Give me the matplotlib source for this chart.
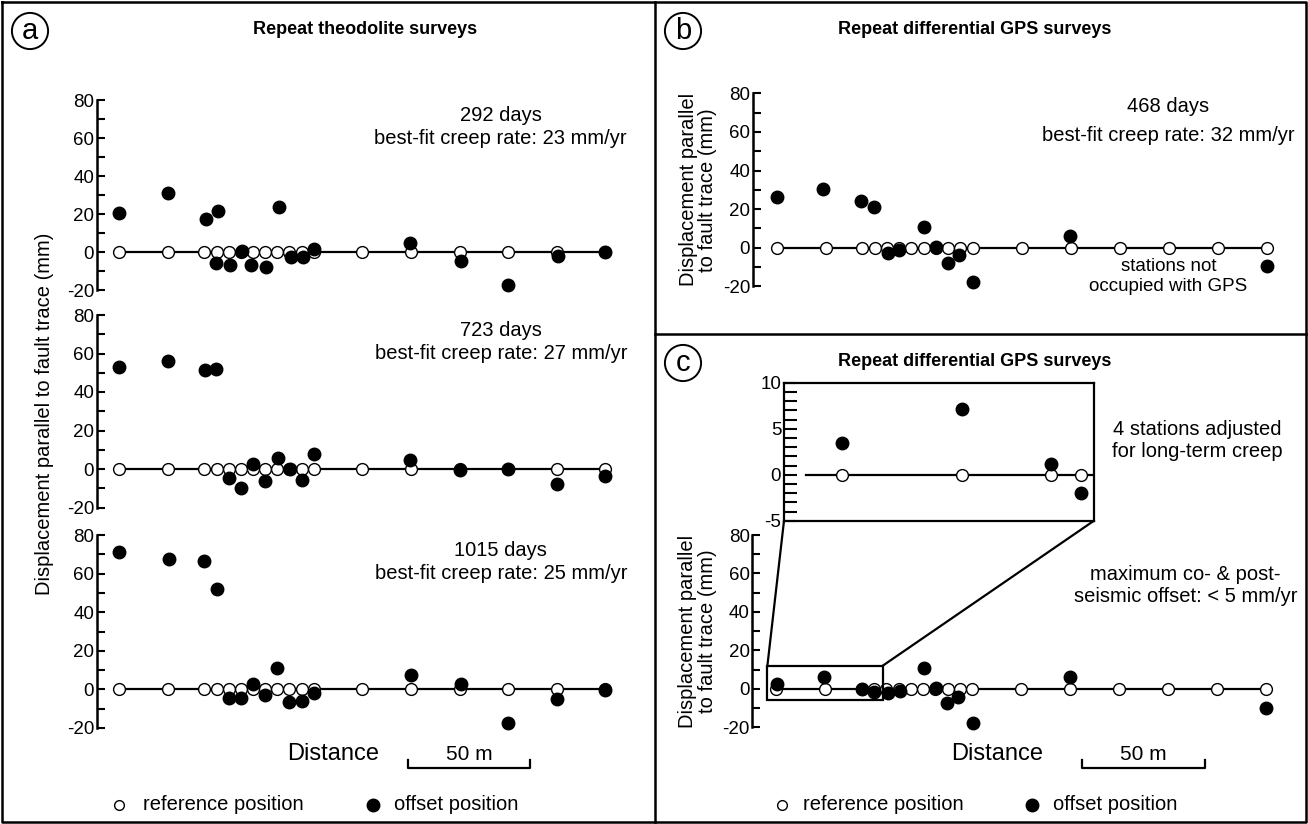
import matplotlib
matplotlib.use("Agg")
import matplotlib.pyplot as plt
from matplotlib.lines import Line2D
from matplotlib.patches import Rectangle, ConnectionPatch
from matplotlib.ticker import MultipleLocator
from matplotlib.transforms import blended_transform_factory

plt.rcParams['font.family'] = ['Liberation Sans', 'DejaVu Sans']
plt.rcParams['axes.unicode_minus'] = False

W, H = 1308, 824

# distance of each survey station along the line (m)
stations = [0, 20, 35, 40, 45, 50, 55, 60, 65, 70, 75, 80, 100, 120, 140, 160, 180, 200]

# (a) repeat theodolite surveys: offset positions (distance m, displacement mm)
a1_dist = [0, 20, 35.5, 40.6, 39.9, 45.4, 50.4, 54.2, 60.4, 65.6, 70.6, 75.4, 80.2, 119.8, 140.6, 160, 180.5, 200]
a1_disp = [20.5, 31, 17.7, 21.8, -5.8, -6.7, 0.7, -6.7, -7.5, 23.7, -2.3, -2.3, 1.6, 5.1, -4.4, -17, -2.1, 0]
a2_dist = [0, 20, 35.1, 39.9, 45.1, 50.1, 54.9, 60.1, 65.2, 70.2, 75, 80.2, 119.5, 140, 160, 180, 200]
a2_disp = [53.1, 56.2, 51.4, 51.7, -4.8, -10.0, 2.6, -6.2, 5.9, 0, -5.7, 7.6, 4.7, -0.5, 0, -8.0, -3.5]
a3_dist = [0, 20.5, 35, 40, 45, 50, 55, 60, 65, 70, 75, 80, 120, 140.5, 160, 180, 200]
a3_disp = [71.3, 67.4, 66.5, 52.0, -4.7, -4.7, 2.6, -2.9, 11.2, -6.4, -6.0, -2.1, 7.4, 3.0, -17.5, -5.1, -0.4]
a_days = ['292 days', '723 days', '1015 days']
a_rates = ['best-fit creep rate: 23 mm/yr', 'best-fit creep rate: 27 mm/yr', 'best-fit creep rate: 25 mm/yr']

# (b) repeat differential GPS surveys
b_dist = [0, 19, 34.5, 39.7, 45.5, 50, 60.4, 65.3, 69.8, 74.3, 80.2, 119.8, 200]
b_disp = [26.4, 30.2, 24.3, 21.2, -2.6, -1.2, 10.9, 0.5, -7.8, -4.0, -17.9, 6.0, -9.5]

# (c) repeat differential GPS surveys, after the earthquake
c_dist = [0.4, 19.5, 35, 40, 45.5, 50.4, 60.4, 65.3, 69.8, 74.3, 80.2, 119.8, 200]
c_disp = [2.6, 6.4, 0, -1.7, -1.9, -1.0, 10.7, 0.3, -7.5, -4.3, -17.9, 6.4, -9.7]
inset_stations = [0, 20, 35, 40]
inset_disp = [3.4, 7.1, 1.2, -2.0]
zoom_box = [-3.6, 43.4, -6, 12]  # x0, x1, y0, y1 of the enlarged area

scale_bar_a = [119, 169]
scale_bar_c = [125, 175]

fig = plt.figure(figsize=(W / 100, H / 100), dpi=100)
FIG = fig.transFigure


def fx(x):
    return x / W


def fy(y):
    return 1 - y / H


def add_px_axes(left, top, right, bottom):
    return fig.add_axes([fx(left), fy(bottom), (right - left) / W, (bottom - top) / H])


def style_axis(ax, x0px, pxpm, left, right, ylim=(-20, 80), major=20, minor=10):
    ax.set_xlim((left - x0px) / pxpm, (right - x0px) / pxpm)
    ax.set_ylim(*ylim)
    for s in ['top', 'right', 'bottom']:
        ax.spines[s].set_visible(False)
    ax.spines['left'].set_linewidth(1.8)
    ax.set_xticks([])
    ax.yaxis.set_major_locator(MultipleLocator(major))
    ax.yaxis.set_minor_locator(MultipleLocator(minor))
    ax.tick_params(axis='y', which='both', direction='in', length=6, width=1.5,
                   labelsize=13.5, pad=2)
    ax.patch.set_alpha(0)


def draw_stations(ax, st, dist, disp):
    ax.plot([st[0], st[-1]], [0, 0], color='black', lw=1.6, zorder=2, clip_on=False)
    ax.plot(st, [0] * len(st), 'o', mfc='white', mec='black', ms=8.5, mew=1.0,
            zorder=3, clip_on=False)
    ax.plot(dist, disp, 'o', color='black', ms=9, zorder=4, clip_on=False)


# ---------- frame ----------
for xs, ys in [([2, 1306, 1306, 2, 2], [2, 2, 822, 822, 2]),
               ([655, 655], [2, 822]),
               ([655, 1306], [334, 334])]:
    fig.add_artist(Line2D([fx(v) for v in xs], [fy(v) for v in ys],
                          transform=FIG, color='black', lw=1.8))

circ = dict(boxstyle='circle,pad=0.14', fc='white', ec='black', lw=1.4)
fig.text(fx(30), fy(31), 'a', fontsize=21, ha='center', va='center', bbox=circ)
fig.text(fx(683), fy(31), 'b', fontsize=21, ha='center', va='center', bbox=circ)
fig.text(fx(683), fy(363), 'c', fontsize=21, ha='center', va='center', bbox=circ)

fig.text(fx(365), fy(30), 'Repeat theodolite surveys', fontsize=13,
         fontweight='bold', ha='center', va='center')
fig.text(fx(975), fy(30), 'Repeat differential GPS surveys', fontsize=13,
         fontweight='bold', ha='center', va='center')
fig.text(fx(975), fy(362), 'Repeat differential GPS surveys', fontsize=13,
         fontweight='bold', ha='center', va='center')

# ---------- panel a ----------
a_x0, a_pxpm = 119.3, 2.43
a_rows = [(100.3, 290.3), (315, 507.5), (535, 728)]
a_data = [(a1_dist, a1_disp), (a2_dist, a2_disp), (a3_dist, a3_disp)]
a_axes = []
for (top, bot), (d, v), days, rate in zip(a_rows, a_data, a_days, a_rates):
    ax = add_px_axes(97, top, 642, bot)
    style_axis(ax, a_x0, a_pxpm, 97, 642)
    draw_stations(ax, stations, d, v)
    ax.text(157, 72, days, fontsize=14.5, ha='center', va='center')
    ax.text(157, 60, rate, fontsize=14.5, ha='center', va='center')
    a_axes.append(ax)

fig.text(fx(45), fy(414), 'Displacement parallel to fault trace (mm)', fontsize=14.5,
         rotation=90, ha='center', va='center')

# ---------- panel b ----------
b_x0, b_pxpm = 776.5, 2.45
ax_b = add_px_axes(753, 93.3, 1300, 286.3)
style_axis(ax_b, b_x0, b_pxpm, 753, 1300)
draw_stations(ax_b, stations, b_dist, b_disp)
ax_b.text(160, 73, '468 days', fontsize=14.5, ha='center', va='center')
ax_b.text(160, 58, 'best-fit creep rate: 32 mm/yr', fontsize=14.5, ha='center', va='center')
ax_b.text(160, -15, 'stations not\noccupied with GPS', fontsize=13.5, ha='center',
          va='center', linespacing=1.25)
ax_b.set_ylabel('Displacement parallel\nto fault trace (mm)', fontsize=14.5, labelpad=4,
                linespacing=1.05)

# ---------- panel c ----------
c_x0, c_pxpm = 776.2, 2.45
ax_c = add_px_axes(752.5, 535, 1300, 727.4)
style_axis(ax_c, c_x0, c_pxpm, 752.5, 1300)
draw_stations(ax_c, stations, c_dist, c_disp)
ax_c.text(167, 54, 'maximum co- & post-\nseismic offset: < 5 mm/yr', fontsize=14.5,
          ha='center', va='center', linespacing=1.2)
ax_c.set_ylabel('Displacement parallel\nto fault trace (mm)', fontsize=14.5, labelpad=4,
                linespacing=1.05)
ax_c.add_patch(Rectangle((zoom_box[0], zoom_box[2]), zoom_box[1] - zoom_box[0],
                         zoom_box[3] - zoom_box[2], fill=False, ec='black', lw=1.6,
                         zorder=5, clip_on=False))

ins = add_px_axes(784, 382.7, 1094, 520.7)
ins.set_xlim(-9.75, 42.2)
ins.set_ylim(-5, 10)
for s in ins.spines.values():
    s.set_linewidth(1.6)
ins.set_xticks([])
ins.yaxis.set_major_locator(MultipleLocator(5))
ins.yaxis.set_minor_locator(MultipleLocator(1))
ins.tick_params(axis='y', which='both', direction='in', length=9, width=1.5,
                labelsize=13.5, pad=2)
ins.plot([-6, 42.2], [0, 0], color='black', lw=1.6, zorder=2)
ins.plot(inset_stations, [0] * len(inset_stations), 'o', mfc='white', mec='black',
         ms=8.5, mew=1.0, zorder=3)
ins.plot(inset_stations, inset_disp, 'o', color='black', ms=9, zorder=4)
ins.text(1.332, 0.58, '4 stations adjusted\nfor long-term creep', transform=ins.transAxes,
         fontsize=14.5, ha='center', va='center', linespacing=1.2)

for xa, xb in [(zoom_box[0], 0), (zoom_box[1], 1)]:
    fig.add_artist(ConnectionPatch(xyA=(xa, zoom_box[3]), coordsA=ax_c.transData,
                                   xyB=(xb, 0), coordsB=ins.transAxes,
                                   color='black', lw=1.6))

# ---------- distance scale and legend ----------
for ax, bar, dist_x in [(a_axes[2], scale_bar_a, 88), (ax_c, scale_bar_c, 90)]:
    tr = blended_transform_factory(ax.transData, FIG)
    ax.plot([bar[0], bar[0], bar[1], bar[1]], [fy(760), fy(768), fy(768), fy(760)],
            color='black', lw=1.6, transform=tr, clip_on=False)
    ax.text(dist_x, fy(754), 'Distance', fontsize=17, ha='center', va='center',
            transform=tr)
    ax.text((bar[0] + bar[1]) / 2, fy(754), '50 m', fontsize=15, ha='center',
            va='center', transform=tr)

for ox, tx, fxm, ftx in [(119, 143, 373, 394), (782, 803, 1032, 1053)]:
    fig.add_artist(Line2D([fx(ox)], [fy(805)], transform=FIG, marker='o', ms=7,
                          mfc='white', mec='black', mew=1.0))
    fig.text(fx(tx), fy(805), 'reference position', fontsize=14.5, ha='left', va='center')
    fig.add_artist(Line2D([fx(fxm)], [fy(805)], transform=FIG, marker='o', ms=9,
                          color='black'))
    fig.text(fx(ftx), fy(805), 'offset position', fontsize=14.5, ha='left', va='center')

fig.savefig('out.png', dpi=100)
